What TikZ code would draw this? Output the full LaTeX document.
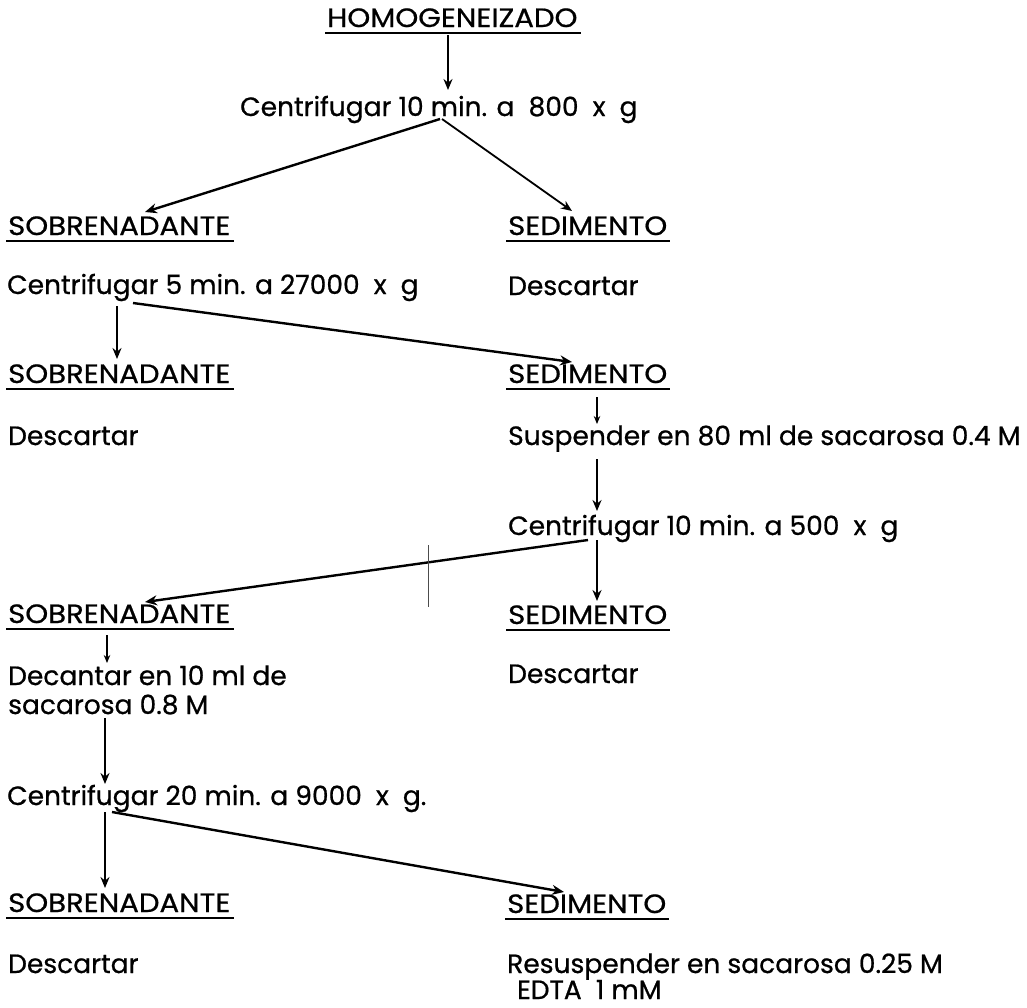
\documentclass[tikz,border=0pt]{standalone}
\usepackage{fontspec}
\setmainfont{Poppins}[FakeBold=0.7]
\newfontfamily\capfont[FakeStretch=1.1,FakeBold=0.7]{Poppins}
\usetikzlibrary{arrows.meta}
\begin{document}
\begin{tikzpicture}[x=1pt,y=-1pt,
  lbl/.style={anchor=base west, inner sep=0pt, font=\fontsize{26.5}{31}\selectfont},
  hdr/.style={lbl, font=\fontsize{26.5}{31}\capfont},
  ul/.style={line width=2.6pt, line cap=butt},
  arr/.style={line width=1.8pt, -{Stealth[length=11pt,width=9pt]}},
  darr/.style={line width=2.4pt, -{Stealth[length=12pt,width=10pt]}},
  sarr/.style={line width=1.3pt, -{Stealth[length=8pt,width=6.5pt]}}]
\useasboundingbox (0,0) rectangle (1027,1007);
% texts
\node[hdr] (hom) at (327,27) {HOMOGENEIZADO};
\node[lbl] (c1) at (240,116) {Centrifugar 10 min. a~~800~~x~~g};
\node[hdr] (sob1) at (8,235) {SOBRENADANTE};
\node[hdr] (sed1) at (508,235) {SEDIMENTO};
\node[lbl] (c2) at (7,294) {Centrifugar 5 min. a 27000~~x~~g};
\node[lbl] (des1) at (508,295) {Descartar};
\node[hdr] (sob2) at (8,383) {SOBRENADANTE};
\node[hdr] (sed2) at (508,383) {SEDIMENTO};
\node[lbl] (des2) at (8,445) {Descartar};
\node[lbl] (susp) at (508,445) {Suspender en 80 ml de sacarosa 0.4 M};
\node[lbl] (c3) at (508,535) {Centrifugar 10 min. a 500~~x~~g};
\node[hdr] (sob3) at (8,623) {SOBRENADANTE};
\node[hdr] (sed3) at (508,624) {SEDIMENTO};
\node[lbl] (dec) at (8,685) {Decantar en 10 ml de};
\node[lbl] (sac) at (8,714) {sacarosa 0.8 M};
\node[lbl] (des3) at (508,683) {Descartar};
\node[lbl] (c4) at (7,805) {Centrifugar 20 min. a 9000~~x~~g.};
\node[hdr] (sob4) at (8,912) {SOBRENADANTE};
\node[hdr] (sed4) at (507,913) {SEDIMENTO};
\node[lbl] (des4) at (8,973) {Descartar};
\node[lbl] (res) at (507,973) {Resuspender en sacarosa 0.25 M};
\node[lbl] (edta) at (517,999) {EDTA~~1 mM};
% underlines
\foreach \n in {hom,sob1,sed1,sob2,sed2,sob3,sed3,sob4,sed4}
  \draw[ul] ([shift={(-2,6)}]\n.base west) -- ([shift={(3,6)}]\n.base east);
% connector end points
\coordinate (a1s) at (448,35);   \coordinate (a1e) at (448,90);
\coordinate (a2s) at (440,119);  \coordinate (a2e) at (145,212);
\coordinate (a3s) at (442,119);  \coordinate (a3e) at (572,211);
\coordinate (a4s) at (117,306);  \coordinate (a4e) at (117,359);
\coordinate (a5s) at (133,303);  \coordinate (a5e) at (572,362);
\coordinate (a6s) at (597,397);  \coordinate (a6e) at (597,424);
\coordinate (a7s) at (597,459);  \coordinate (a7e) at (597,511);
\coordinate (a8s) at (588,540);  \coordinate (a8e) at (145,602);
\coordinate (a9s) at (597,540);  \coordinate (a9e) at (597,601);
\coordinate (a10s) at (107,635); \coordinate (a10e) at (107,663);
\coordinate (a11s) at (105,718); \coordinate (a11e) at (105,784);
\coordinate (a12s) at (105,812); \coordinate (a12e) at (105,888);
\coordinate (a13s) at (112,812); \coordinate (a13e) at (564,892);
% connectors
\draw[arr] (a1s) -- (a1e);
\draw[darr] (a2s) -- (a2e);
\draw[arr] (a3s) -- (a3e);
\draw[arr] (a4s) -- (a4e);
\draw[darr] (a5s) -- (a5e);
\draw[sarr] (a6s) -- (a6e);
\draw[arr] (a7s) -- (a7e);
\draw[darr] (a8s) -- (a8e);
\draw[arr] (a9s) -- (a9e);
\draw[sarr] (a10s) -- (a10e);
\draw[arr] (a11s) -- (a11e);
\draw[arr] (a12s) -- (a12e);
\draw[darr] (a13s) -- (a13e);
% scan mark
\draw[line width=0.8pt, black!70] (428,545) -- (428,607);
\end{tikzpicture}
\end{document}
